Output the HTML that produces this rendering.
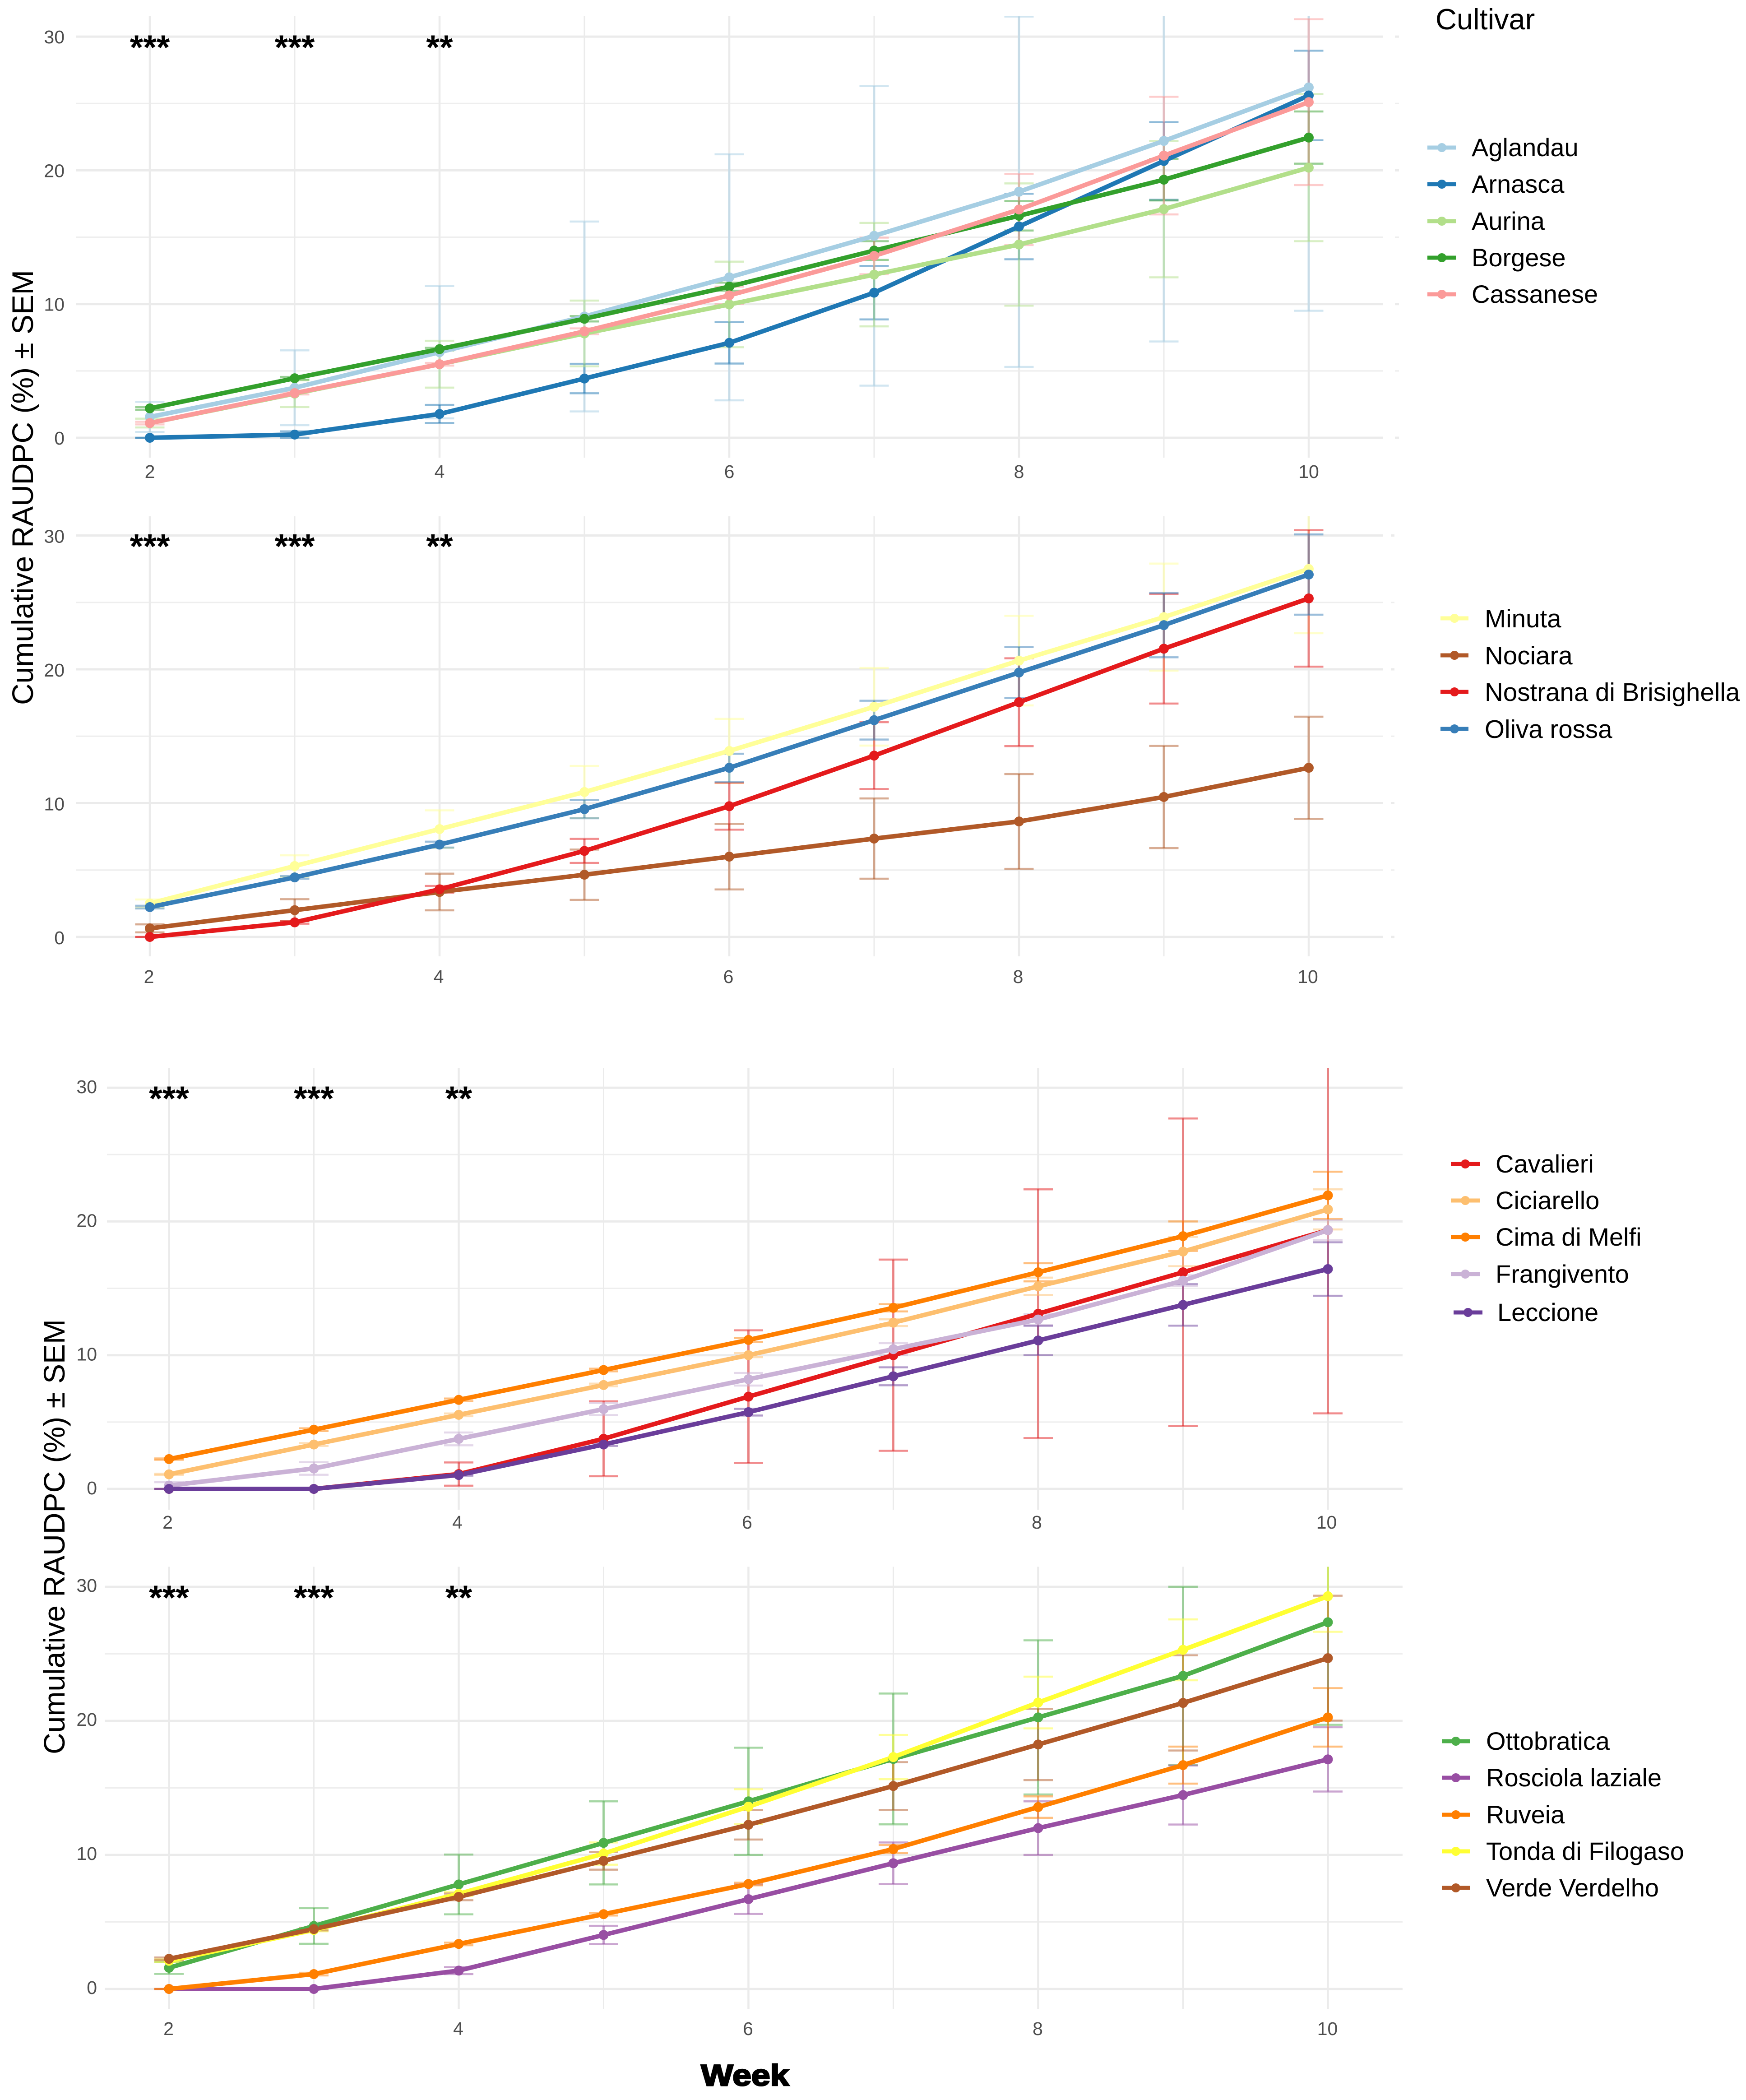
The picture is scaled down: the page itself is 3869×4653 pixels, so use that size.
<!DOCTYPE html>
<html lang="en">
<head>
<meta charset="utf-8">
<title>Cumulative RAUDPC by cultivar</title>
<style>
html,body{margin:0;padding:0;background:#fff;}
svg{display:block;}
text{font-family:"Liberation Sans",sans-serif;}
.lg{font-size:56px;fill:#000;}
.lg2{font-size:56.5px;fill:#000;}
.yt{font-size:66px;fill:#000;}
</style>
</head>
<body>
<svg id="chart" xmlns="http://www.w3.org/2000/svg" width="3869" height="4653" viewBox="0 0 3869 4653">
<rect width="3869" height="4653" fill="#fff"/>
<g id="panels"></g>

<text class="yt" transform="translate(73 1080) rotate(-90)" text-anchor="middle">Cumulative RAUDPC (%) ± SEM</text>
<text class="yt" transform="translate(143 3405) rotate(-90)" text-anchor="middle">Cumulative RAUDPC (%) ± SEM</text>
<text x="1651" y="4621" text-anchor="middle" font-size="66" font-weight="bold" stroke="#000" stroke-width="3" textLength="195" lengthAdjust="spacingAndGlyphs">Week</text>
<text x="3181" y="65" font-size="65">Cultivar</text>

<g>
<g><line x1="3163" x2="3227" y1="327" y2="327" stroke="#a6cee3" stroke-width="9"/><circle cx="3195" cy="327" r="10" fill="#a6cee3"/><text class="lg" x="3261" y="346">Aglandau</text></g>
<g><line x1="3163" x2="3227" y1="408" y2="408" stroke="#1f78b4" stroke-width="9"/><circle cx="3195" cy="408" r="10" fill="#1f78b4"/><text class="lg" x="3261" y="427">Arnasca</text></g>
<g><line x1="3163" x2="3227" y1="490" y2="490" stroke="#b2df8a" stroke-width="9"/><circle cx="3195" cy="490" r="10" fill="#b2df8a"/><text class="lg" x="3261" y="509">Aurina</text></g>
<g><line x1="3163" x2="3227" y1="571" y2="571" stroke="#33a02c" stroke-width="9"/><circle cx="3195" cy="571" r="10" fill="#33a02c"/><text class="lg" x="3261" y="590">Borgese</text></g>
<g><line x1="3163" x2="3227" y1="652" y2="652" stroke="#fb9a99" stroke-width="9"/><circle cx="3195" cy="652" r="10" fill="#fb9a99"/><text class="lg" x="3261" y="671">Cassanese</text></g>
</g>

<g>
<g><line x1="3192" x2="3254" y1="1370" y2="1370" stroke="#ffff99" stroke-width="9"/><circle cx="3223" cy="1370" r="10" fill="#ffff99"/><text class="lg2" x="3290" y="1390">Minuta</text></g>
<g><line x1="3192" x2="3254" y1="1452" y2="1452" stroke="#b15928" stroke-width="9"/><circle cx="3223" cy="1452" r="10" fill="#b15928"/><text class="lg2" x="3290" y="1472">Nociara</text></g>
<g><line x1="3192" x2="3254" y1="1533" y2="1533" stroke="#e41a1c" stroke-width="9"/><circle cx="3223" cy="1533" r="10" fill="#e41a1c"/><text class="lg2" x="3290" y="1553">Nostrana di Brisighella</text></g>
<g><line x1="3192" x2="3254" y1="1615" y2="1615" stroke="#377eb8" stroke-width="9"/><circle cx="3223" cy="1615" r="10" fill="#377eb8"/><text class="lg2" x="3290" y="1635">Oliva rossa</text></g>
</g>

<g>
<g><line x1="3215" x2="3279" y1="2579" y2="2579" stroke="#e41a1c" stroke-width="9"/><circle cx="3247" cy="2579" r="10" fill="#e41a1c"/><text class="lg" x="3314" y="2598">Cavalieri</text></g>
<g><line x1="3215" x2="3279" y1="2660" y2="2660" stroke="#fdbf6f" stroke-width="9"/><circle cx="3247" cy="2660" r="10" fill="#fdbf6f"/><text class="lg" x="3314" y="2679">Ciciarello</text></g>
<g><line x1="3215" x2="3279" y1="2741" y2="2741" stroke="#ff7f00" stroke-width="9"/><circle cx="3247" cy="2741" r="10" fill="#ff7f00"/><text class="lg" x="3314" y="2760">Cima di Melfi</text></g>
<g><line x1="3215" x2="3279" y1="2823" y2="2823" stroke="#cab2d6" stroke-width="9"/><circle cx="3247" cy="2823" r="10" fill="#cab2d6"/><text class="lg" x="3314" y="2842">Frangivento</text></g>
<g><line x1="3221" x2="3285" y1="2908" y2="2908" stroke="#6a3d9a" stroke-width="9"/><circle cx="3253" cy="2908" r="10" fill="#6a3d9a"/><text class="lg" x="3318" y="2927">Leccione</text></g>
</g>

<g>
<g><line x1="3195" x2="3258" y1="3858" y2="3858" stroke="#4daf4a" stroke-width="9"/><circle cx="3226" cy="3858" r="10" fill="#4daf4a"/><text class="lg" x="3293" y="3877">Ottobratica</text></g>
<g><line x1="3195" x2="3258" y1="3939" y2="3939" stroke="#984ea3" stroke-width="9"/><circle cx="3226" cy="3939" r="10" fill="#984ea3"/><text class="lg" x="3293" y="3958">Rosciola laziale</text></g>
<g><line x1="3195" x2="3258" y1="4021" y2="4021" stroke="#ff7f00" stroke-width="9"/><circle cx="3226" cy="4021" r="10" fill="#ff7f00"/><text class="lg" x="3293" y="4040">Ruveia</text></g>
<g><line x1="3195" x2="3258" y1="4102" y2="4102" stroke="#ffff33" stroke-width="9"/><circle cx="3226" cy="4102" r="10" fill="#ffff33"/><text class="lg" x="3293" y="4121">Tonda di Filogaso</text></g>
<g><line x1="3195" x2="3258" y1="4183" y2="4183" stroke="#b15928" stroke-width="9"/><circle cx="3226" cy="4183" r="10" fill="#b15928"/><text class="lg" x="3293" y="4202">Verde Verdelho</text></g>
</g>
</svg>

<script>
// Shared axis data
const weeks = [2, 3, 4, 5, 6, 7, 8, 9, 10];
const xTickWeeks = [2, 4, 6, 8, 10];
const yTickValues = [0, 10, 20, 30];
const yMinorValues = [5, 15, 25];
const sigWeeks = [2, 3, 4];
const sigLabels = ['***', '***', '**'];

// Panel 1
const aglandauMean = [1.56, 3.74, 6.4, 9.07, 12, 15.1, 18.4, 22.2, 26.2];
const aglandauSem = [1.13, 2.8, 4.95, 7.1, 9.2, 11.2, 13.1, 15, 16.7];
const arnascaMean = [0, 0.24, 1.78, 4.43, 7.1, 10.85, 15.8, 20.7, 25.6];
const arnascaSem = [0, 0.24, 0.68, 1.1, 1.55, 2, 2.45, 2.9, 3.35];
const aurinaMean = [1.1, 3.3, 5.5, 7.8, 9.97, 12.2, 14.45, 17.1, 20.2];
const aurinaSem = [0.33, 1, 1.75, 2.46, 3.2, 3.87, 4.57, 5.1, 5.5];
const borgeseMean = [2.2, 4.45, 6.63, 8.9, 11.3, 14, 16.6, 19.3, 22.45];
const borgeseSem = [0.1, 0.1, 0.1, 0.2, 0.3, 0.7, 1.1, 1.55, 1.95];
const cassaneseMean = [1.1, 3.34, 5.5, 7.96, 10.65, 13.6, 17.07, 21.1, 25.1];
const cassaneseSem = [0.1, 0.1, 0.1, 0.22, 0.65, 1.37, 2.66, 4.4, 6.2];

// Panel 2
const minutaMean = [2.5, 5.3, 8.06, 10.83, 13.9, 17.2, 20.65, 23.9, 27.5];
const minutaSem = [0.3, 0.8, 1.4, 1.95, 2.4, 2.9, 3.35, 4, 4.8];
const nociaraMean = [0.64, 2, 3.36, 4.65, 6, 7.35, 8.63, 10.46, 12.64];
const nociaraSem = [0.3, 0.82, 1.37, 1.88, 2.45, 3, 3.54, 3.82, 3.82];
const nostranaMean = [0, 1.09, 3.56, 6.43, 9.77, 13.55, 17.54, 21.54, 25.3];
const nostranaSem = [0, 0.1, 0.25, 0.9, 1.75, 2.5, 3.28, 4.1, 5.1];
const olivaMean = [2.23, 4.45, 6.9, 9.55, 12.64, 16.2, 19.76, 23.3, 27.08];
const olivaSem = [0.1, 0.1, 0.22, 0.68, 1.05, 1.45, 1.9, 2.4, 3];

// Panel 3
const cavalieriMean = [0, 0, 1.11, 3.75, 6.9, 10, 13.1, 16.2, 19.35];
const cavalieriSem = [0, 0, 0.87, 2.8, 4.96, 7.15, 9.3, 11.5, 13.7];
const ciciarelloMean = [1.09, 3.32, 5.54, 7.77, 10, 12.43, 15.15, 17.75, 20.9];
const ciciarelloSem = [0.05, 0.1, 0.1, 0.1, 0.15, 0.25, 0.65, 1.1, 1.5];
const cimaMean = [2.23, 4.43, 6.66, 8.89, 11.14, 13.54, 16.2, 18.9, 21.95];
const cimaSem = [0.05, 0.1, 0.1, 0.1, 0.15, 0.27, 0.68, 1.1, 1.77];
const frangiventoMean = [0.25, 1.53, 3.74, 5.97, 8.2, 10.45, 12.67, 15.57, 19.35];
const frangiventoSem = [0.25, 0.47, 0.48, 0.45, 0.47, 0.45, 0.4, 0.4, 0.75];
const leccioneMean = [0, 0, 1.04, 3.32, 5.74, 8.42, 11.1, 13.76, 16.44];
const leccioneSem = [0, 0, 0.05, 0.1, 0.25, 0.67, 1.1, 1.55, 2];

// Panel 4
const ottobraticaMean = [1.58, 4.7, 7.8, 10.9, 14, 17.16, 20.26, 23.36, 27.36];
const ottobraticaSem = [0.45, 1.33, 2.23, 3.1, 4, 4.88, 5.75, 6.65, 7.65];
const rosciolaMean = [0, 0, 1.37, 4.03, 6.7, 9.38, 12, 14.47, 17.13];
const rosciolaSem = [0, 0, 0.26, 0.68, 1.1, 1.55, 2, 2.2, 2.4];
const ruveiaMean = [0, 1.11, 3.36, 5.58, 7.83, 10.44, 13.57, 16.7, 20.26];
const ruveiaSem = [0, 0.1, 0.1, 0.1, 0.1, 0.3, 0.8, 1.38, 2.18];
const tondaMean = [2.1, 4.4, 7.1, 10.1, 13.6, 17.3, 21.37, 25.3, 29.3];
const tondaSem = [0.1, 0.1, 0.15, 0.83, 1.3, 1.65, 1.93, 2.27, 2.65];
const verdeMean = [2.25, 4.47, 6.87, 9.56, 12.25, 15.14, 18.24, 21.34, 24.68];
const verdeSem = [0.1, 0.1, 0.25, 0.66, 1.1, 1.78, 2.66, 3.55, 4.66];

// Panel frames (layout only)
const frames = [
  {left: 168, right: 3100, top: 36, bottom: 1014, y0: 970, unit: 29.63, x2: 332, gap: [3064, 3091], yLabelX: 143, yLabelDy: 15, xLabelY: 1059, xLabelDx: 0},
  {left: 168, right: 3090, top: 1144, bottom: 2119, y0: 2076, unit: 29.65, x2: 332, gap: [3064, 3082], yLabelX: 143, yLabelDy: 16, xLabelY: 2178, xLabelDx: -2},
  {left: 237, right: 3108, top: 2366, bottom: 3345, y0: 3299, unit: 29.63, x2: 374.5, gap: null, yLabelX: 215, yLabelDy: 12, xLabelY: 3387, xLabelDx: -3},
  {left: 232, right: 3108, top: 3471.5, bottom: 4451, y0: 4407, unit: 29.7, x2: 374.5, gap: null, yLabelX: 215, yLabelDy: 11, xLabelY: 4509, xLabelDx: -1}
];
const weekStep = 321;

const panelSeries = [
  [
    {id: 'aglandau', color: '#a6cee3', mean: aglandauMean, sem: aglandauSem},
    {id: 'arnasca', color: '#1f78b4', mean: arnascaMean, sem: arnascaSem},
    {id: 'aurina', color: '#b2df8a', mean: aurinaMean, sem: aurinaSem},
    {id: 'borgese', color: '#33a02c', mean: borgeseMean, sem: borgeseSem},
    {id: 'cassanese', color: '#fb9a99', mean: cassaneseMean, sem: cassaneseSem}
  ],
  [
    {id: 'minuta', color: '#ffff99', mean: minutaMean, sem: minutaSem},
    {id: 'nociara', color: '#b15928', mean: nociaraMean, sem: nociaraSem},
    {id: 'nostrana', color: '#e41a1c', mean: nostranaMean, sem: nostranaSem},
    {id: 'oliva-rossa', color: '#377eb8', mean: olivaMean, sem: olivaSem}
  ],
  [
    {id: 'cavalieri', color: '#e41a1c', mean: cavalieriMean, sem: cavalieriSem},
    {id: 'ciciarello', color: '#fdbf6f', mean: ciciarelloMean, sem: ciciarelloSem},
    {id: 'cima-di-melfi', color: '#ff7f00', mean: cimaMean, sem: cimaSem},
    {id: 'frangivento', color: '#cab2d6', mean: frangiventoMean, sem: frangiventoSem},
    {id: 'leccione', color: '#6a3d9a', mean: leccioneMean, sem: leccioneSem}
  ],
  [
    {id: 'ottobratica', color: '#4daf4a', mean: ottobraticaMean, sem: ottobraticaSem},
    {id: 'rosciola-laziale', color: '#984ea3', mean: rosciolaMean, sem: rosciolaSem},
    {id: 'ruveia', color: '#ff7f00', mean: ruveiaMean, sem: ruveiaSem},
    {id: 'tonda-di-filogaso', color: '#ffff33', mean: tondaMean, sem: tondaSem},
    {id: 'verde-verdelho', color: '#b15928', mean: verdeMean, sem: verdeSem}
  ]
];

const NS = 'http://www.w3.org/2000/svg';
function shape(parent, tag, props, name) {
  const el = document.createElementNS(NS, tag);
  for (const key in props) el.setAttribute(key, props[key]);
  
  
  parent.appendChild(el);
  return el;
}

const root = document.getElementById('panels');
const defs = shape(root, 'defs', {}, 'clip-definitions');

frames.forEach(function (frame, p) {
  const xAxis = function (w) { return frame.x2 + (w - 2) * weekStep; };
  const yAxis = function (v) { return frame.y0 - v * frame.unit; };
  const panelNo = p + 1;
  const g = shape(root, 'g', {}, 'panel-' + panelNo);

  const clip = shape(defs, 'clipPath', {id: 'clip-' + panelNo}, 'panel-clip-' + panelNo);
  shape(clip, 'rect', {x: 0, y: frame.top, width: 3869, height: frame.bottom - frame.top}, 'panel-clip-rect');

  const grid = shape(g, 'g', {}, 'gridlines');
  yMinorValues.forEach(function (v) {
    shape(grid, 'line', {x1: frame.left, x2: frame.right, y1: yAxis(v), y2: yAxis(v), stroke: '#eeeeee', 'stroke-width': 3}, 'minor-gridline-y');
  });
  yTickValues.forEach(function (v) {
    shape(grid, 'line', {x1: frame.left, x2: frame.right, y1: yAxis(v), y2: yAxis(v), stroke: '#ebebeb', 'stroke-width': 5}, 'major-gridline-y');
  });
  if (frame.gap) {
    shape(grid, 'rect', {x: frame.gap[0], y: frame.top, width: frame.gap[1] - frame.gap[0], height: frame.bottom - frame.top, fill: '#fff'}, 'grid-gap');
  }
  weeks.forEach(function (w) {
    const major = xTickWeeks.indexOf(w) >= 0;
    shape(grid, 'line', {x1: xAxis(w), x2: xAxis(w), y1: frame.top, y2: frame.bottom, stroke: '#ebebeb', 'stroke-width': major ? 4.5 : 3}, major ? 'major-gridline-x' : 'minor-gridline-x');
  });

  yTickValues.forEach(function (v) {
    const t = shape(g, 'text', {x: frame.yLabelX, y: yAxis(v) + frame.yLabelDy, 'text-anchor': 'end', 'font-size': 41, fill: '#4d4d4d'}, 'y-tick-label');
    t.textContent = String(v);
  });
  xTickWeeks.forEach(function (w) {
    const t = shape(g, 'text', {x: xAxis(w) + frame.xLabelDx, y: frame.xLabelY, 'text-anchor': 'middle', 'font-size': 41, fill: '#4d4d4d'}, 'x-tick-label');
    t.textContent = String(w);
  });

  const plot = shape(g, 'g', {'clip-path': 'url(#clip-' + panelNo + ')'}, 'plot-area');
  const series = panelSeries[p];

  series.forEach(function (s) {
    const bars = shape(plot, 'g', {stroke: s.color, 'stroke-opacity': 0.5, fill: 'none'}, 'error-bars-' + s.id);
    weeks.forEach(function (w, i) {
      const hi = yAxis(s.mean[i] + s.sem[i]);
      const lo = yAxis(Math.max(0, s.mean[i] - s.sem[i]));
      const x = xAxis(w);
      shape(bars, 'line', {x1: x, x2: x, y1: hi, y2: lo, 'stroke-width': 5}, 'error-bar-stem');
      shape(bars, 'line', {x1: x - 32.5, x2: x + 32.5, y1: hi, y2: hi, 'stroke-width': 4.5}, 'error-bar-cap-upper');
      shape(bars, 'line', {x1: x - 32.5, x2: x + 32.5, y1: lo, y2: lo, 'stroke-width': 4.5}, 'error-bar-cap-lower');
    });
  });

  series.forEach(function (s) {
    const pts = weeks.map(function (w, i) { return xAxis(w) + ',' + yAxis(s.mean[i]); }).join(' ');
    shape(plot, 'polyline', {points: pts, fill: 'none', stroke: s.color, 'stroke-width': 10, 'stroke-linejoin': 'round'}, 'line-' + s.id);
  });

  series.forEach(function (s) {
    const dots = shape(plot, 'g', {fill: s.color}, 'points-' + s.id);
    weeks.forEach(function (w, i) {
      shape(dots, 'circle', {cx: xAxis(w), cy: yAxis(s.mean[i]), r: 11}, 'point-' + s.id + '-week-' + w);
    });
  });

  sigWeeks.forEach(function (w, i) {
    const t = shape(g, 'text', {x: xAxis(w), y: yAxis(30) + 50, 'text-anchor': 'middle', 'font-size': 76, 'font-weight': 'bold', fill: '#000'}, 'significance-label');
    t.textContent = sigLabels[i];
  });
});
</script>
</body>
</html>
